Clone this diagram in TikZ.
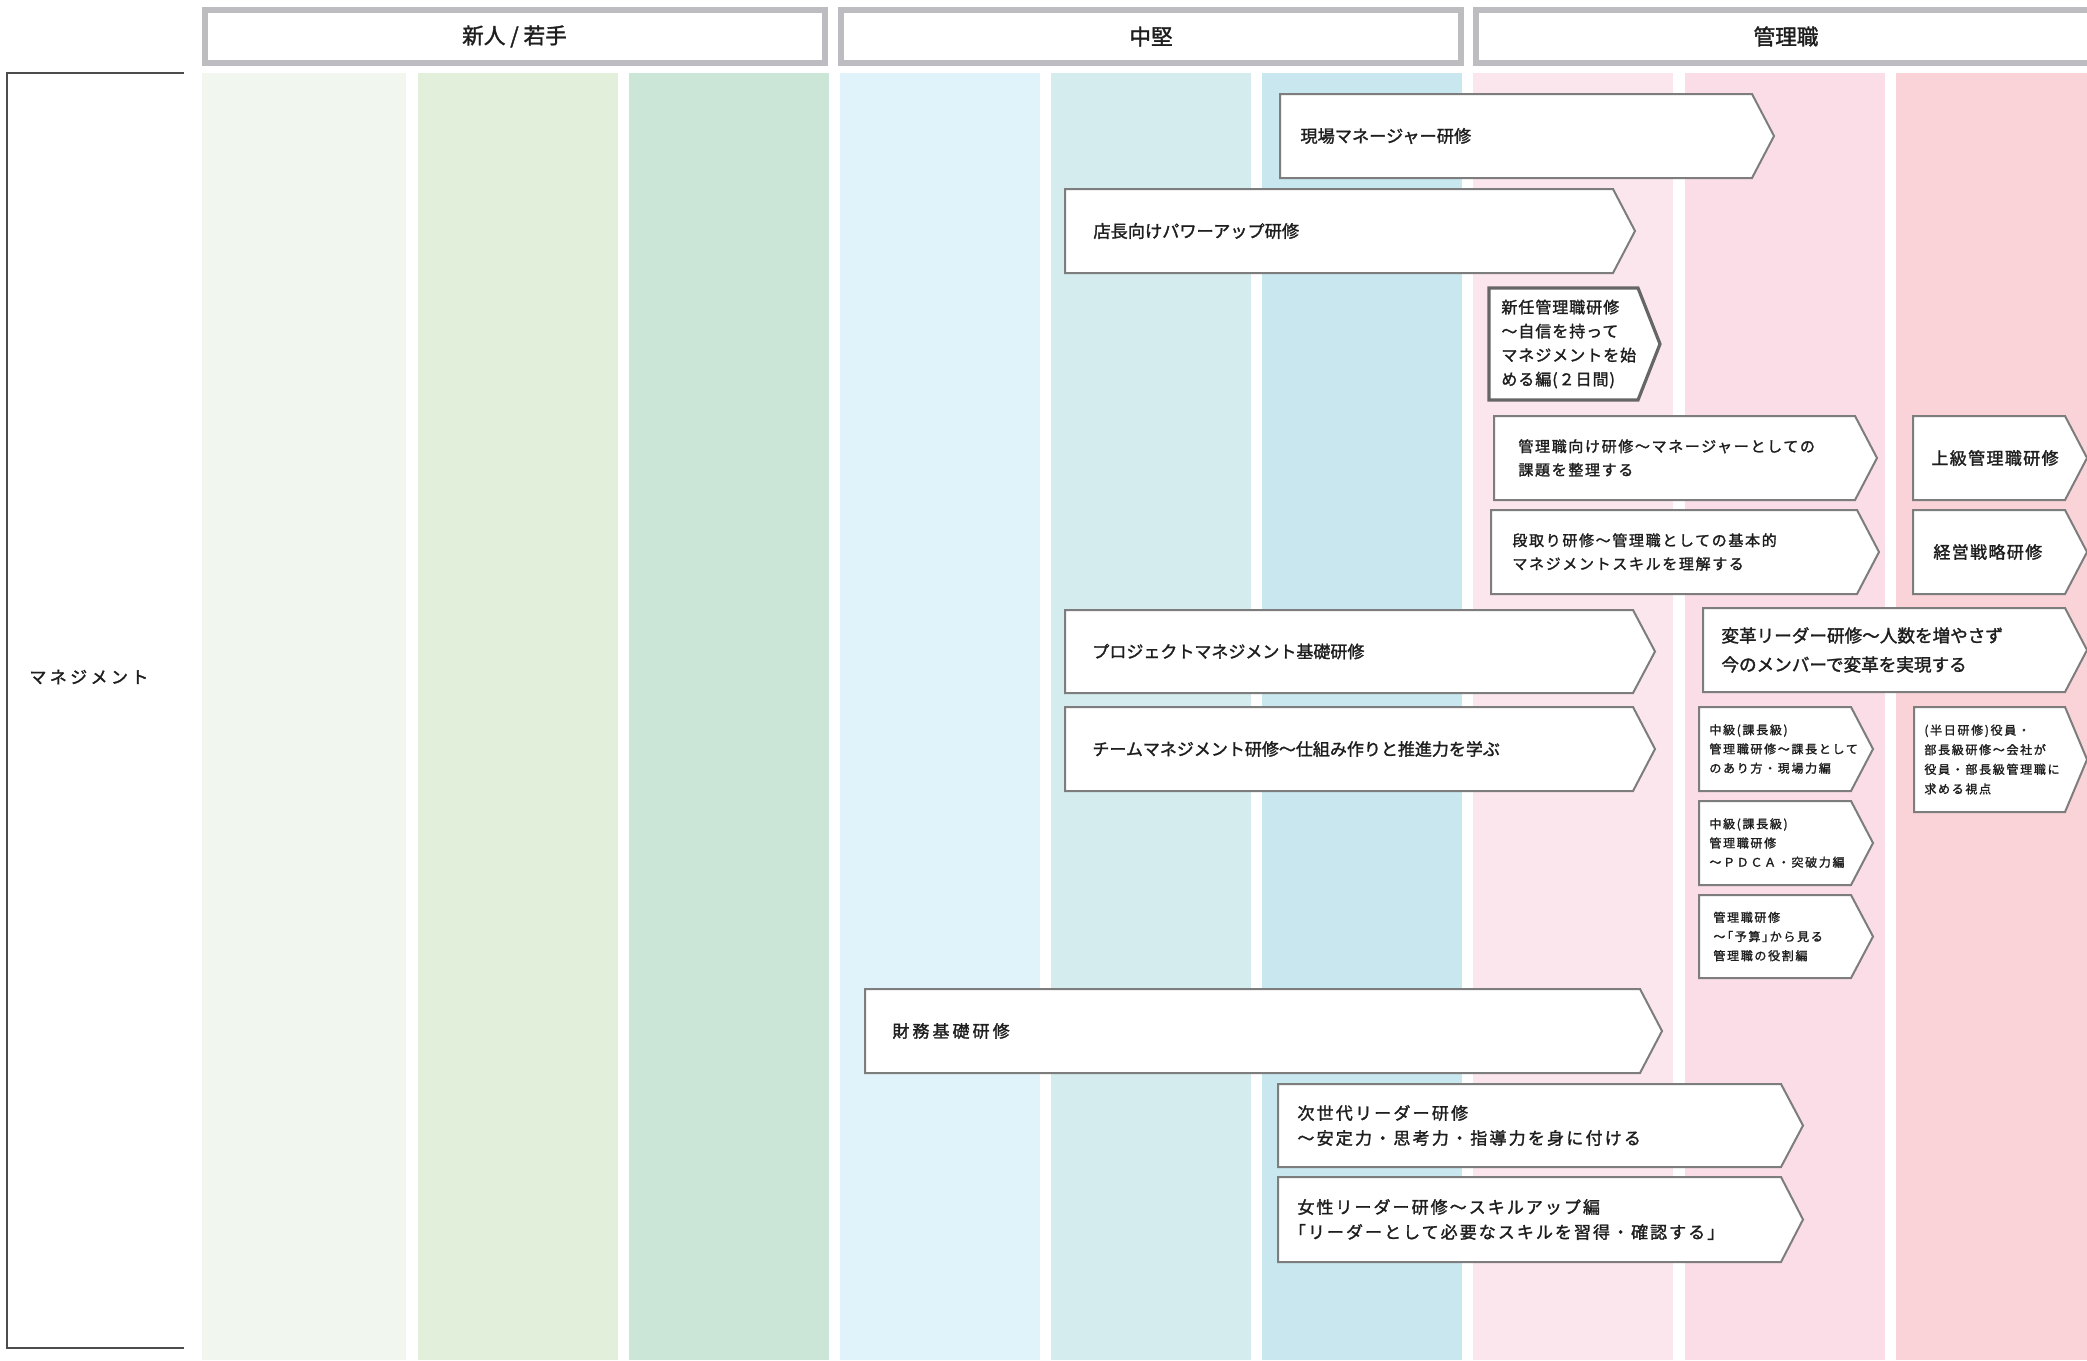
\documentclass[tikz,border=0pt]{standalone}
\usepackage{fontspec}
\usepackage{tikz}
\newfontfamily\jp[FakeBold=1.6]{Noto Sans CJK JP}
\definecolor{wakate1}{HTML}{F1F7EE}
\definecolor{wakate2}{HTML}{E2EFDA}
\definecolor{wakate3}{HTML}{CBE5D6}
\definecolor{chuken1}{HTML}{E1F3FA}
\definecolor{chuken2}{HTML}{D5ECEE}
\definecolor{chuken3}{HTML}{C8E7EE}
\definecolor{kanri1}{HTML}{FCE6EE}
\definecolor{kanri2}{HTML}{FADDE7}
\definecolor{kanri3}{HTML}{F9D3D8}
\definecolor{headgray}{HTML}{BDBDC1}
\definecolor{boxgray}{HTML}{7D7D7D}
\definecolor{inkgray}{HTML}{1E1E1E}
\tikzset{
    head/.style={draw=headgray, line width=3pt, fill=white, inner sep=0pt, outer sep=0pt,
        minimum width=310pt, minimum height=26.5pt, text=inkgray, font=\jp\fontsize{10.8}{12}\selectfont},
    course/.style={draw=boxgray, line width=1pt, fill=white},
    coursetext/.style={anchor=west, align=left, inner sep=0pt, text=inkgray, font=\jp\fontsize{8.5}{12}\selectfont},
}
% pentagon with the point on the right: left, top, tip, bottom
\newcommand{\chevron}[5][]{%
    \draw[course, #1] (#2,#3) -- ({#4-22},#3) -- (#4,{(#3+#5)/2}) -- ({#4-22},#5) -- (#2,#5) -- cycle;}

\begin{document}
\begin{tikzpicture}[x=0.5pt, y=-0.5pt]
    \useasboundingbox (0,0) rectangle (2087,1360);
    \fill[white] (0,0) rectangle (2087,1360);

    % columns
    \fill[wakate1] (202,73) rectangle (406,1360);
    \foreach \x/\c in {418/wakate2, 629/wakate3, 840/chuken1, 1051/chuken2, 1262/chuken3, 1473/kanri1, 1685/kanri2, 1896/kanri3}
        \fill[\c] (\x,73) rectangle ++(200,1287);

    % headers
    \node[head] (wakate) at (514.5,36.5) {新人 / 若手};
    \node[head] (chuken) at (1151,36.5) {中堅};
    \node[head] (kanri) at (1786,36.5) {管理職};

    % row label
    \draw[black!70, line width=1.2pt] (184,73) -- (7,73) -- (7,1348) -- (184,1348);
    \node[coursetext, font=\jp\fontsize{8.5}{10}\selectfont\addfontfeature{LetterSpace=20}] (manage) at (29,677) {マネジメント};

    % courses
    \chevron{1280}{94}{1774}{178}
    \node[coursetext, font=\jp\fontsize{8.6}{12}\selectfont] (genba) at (1300,136) {現場マネージャー研修};
    \chevron{1065}{189}{1635}{273}
    \node[coursetext, font=\jp\fontsize{8.6}{12}\selectfont] (tencho) at (1093,231) {店長向けパワーアップ研修};
    \chevron[line width=1.6pt, draw=black!60]{1489}{288}{1660}{400}
    \node[coursetext, font=\jp\fontsize{8}{12}\selectfont\addfontfeature{LetterSpace=6}] (shinnin) at (1501,344) {新任管理職研修\\〜自信を持って\\マネジメントを始\\める編(２日間)};
    \chevron{1494}{416}{1877}{500}
    \node[coursetext, font=\jp\fontsize{7.5}{11.75}\selectfont\addfontfeature{LetterSpace=11}] (kanrimuke) at (1518,458) {管理職向け研修〜マネージャーとしての\\課題を整理する};
    \chevron{1491}{510}{1879}{594}
    \node[coursetext, font=\jp\fontsize{7.5}{11.75}\selectfont\addfontfeature{LetterSpace=11}] (dandori) at (1512,552) {段取り研修〜管理職としての基本的\\マネジメントスキルを理解する};
    \chevron{1913}{416}{2087}{500}
    \node[coursetext, font=\jp\fontsize{8.5}{12}\selectfont\addfontfeature{LetterSpace=8}] (jokyu) at (1931,458) {上級管理職研修};
    \chevron{1913}{510}{2087}{594}
    \node[coursetext, font=\jp\fontsize{8.5}{12}\selectfont\addfontfeature{LetterSpace=8}] (keiei) at (1933,552) {経営戦略研修};
    \chevron{1065}{610}{1655}{693}
    \node[coursetext] (project) at (1092,651.5) {プロジェクトマネジメント基礎研修};
    \chevron{1703}{608}{2087}{692}
    \node[coursetext, font=\jp\fontsize{8.8}{14.5}\selectfont] (henkaku) at (1721,650) {変革リーダー研修〜人数を増やさず\\今のメンバーで変革を実現する};
    \chevron{1065}{707}{1655}{791}
    \node[coursetext] (team) at (1092,749) {チームマネジメント研修〜仕組み作りと推進力を学ぶ};
    \chevron{1699}{707}{1873}{791}
    \node[coursetext, font=\jp\fontsize{6}{9.6}\selectfont\addfontfeature{LetterSpace=14}] (chukyu) at (1709,749) {中級(課長級)\\管理職研修〜課長として\\のあり方・現場力編};
    \chevron{1914}{707}{2087}{812}
    \node[coursetext, font=\jp\fontsize{6}{9.8}\selectfont\addfontfeature{LetterSpace=14}] (hannichi) at (1924,759.5) {(半日研修)役員・\\部長級研修〜会社が\\役員・部長級管理職に\\求める視点};
    \chevron{1699}{801}{1873}{885}
    \node[coursetext, font=\jp\fontsize{6}{9.6}\selectfont\addfontfeature{LetterSpace=14}] (pdca) at (1709,843) {中級(課長級)\\管理職研修\\〜ＰＤＣＡ・突破力編};
    \chevron{1699}{895}{1873}{978}
    \node[coursetext, font=\jp\fontsize{6}{9.6}\selectfont\addfontfeature{LetterSpace=14}] (yosan) at (1713,936.5) {管理職研修\\〜｢予算｣から見る\\管理職の役割編};
    \chevron{865}{989}{1662}{1073}
    \node[coursetext, font=\jp\fontsize{8.5}{12}\selectfont\addfontfeature{LetterSpace=18}] (zaimu) at (892,1031) {財務基礎研修};
    \chevron{1278}{1084}{1803}{1167}
    \node[coursetext, font=\jp\fontsize{8.5}{12.5}\selectfont\addfontfeature{LetterSpace=13}] (jisedai) at (1297,1125.5) {次世代リーダー研修\\〜安定力・思考力・指導力を身に付ける};
    \chevron{1278}{1177}{1803}{1262}
    \node[coursetext, font=\jp\fontsize{8.5}{12.5}\selectfont\addfontfeature{LetterSpace=12}] (josei) at (1297,1219.5) {女性リーダー研修〜スキルアップ編\\｢リーダーとして必要なスキルを習得・確認する｣};
\end{tikzpicture}
\end{document}
